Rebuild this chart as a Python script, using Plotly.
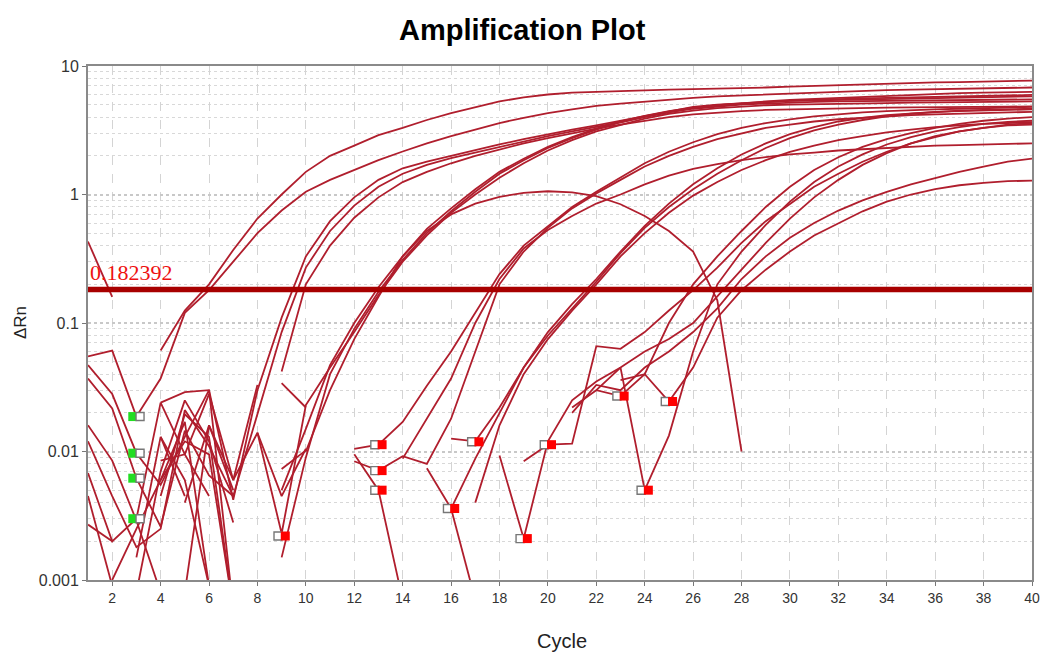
import plotly.graph_objects as go

N = None
cycles = list(range(1, 41))

# ---- amplification curves (delta Rn per cycle, None = not drawn) ----
A1 = [0.43, 0.16, N, 0.061, 0.125, 0.2, 0.37, 0.65, 1.0, 1.5,
      2.0, 2.4, 2.9, 3.3, 3.8, 4.3, 4.8, 5.3, 5.7, 6.0,
      6.2, 6.3, 6.4, 6.5, 6.55, 6.6, 6.65, 6.7, 6.8, 6.9,
      7.0, 7.1, 7.2, 7.3, 7.4, 7.45, 7.5, 7.6, 7.65, 7.7]
A2 = [0.055, 0.061, 0.0187, 0.037, 0.12, 0.18, 0.3, 0.5, 0.75, 1.05,
      1.3, 1.55, 1.85, 2.16, 2.5, 2.85, 3.2, 3.6, 3.95, 4.3,
      4.6, 4.9, 5.1, 5.3, 5.5, 5.65, 5.8, 5.9, 6.0, 6.1,
      6.2, 6.3, 6.4, 6.5, 6.55, 6.6, 6.65, 6.7, 6.75, 6.8]
B1 = [0.047, 0.028, 0.0097, 0.0055, 0.013, 0.03, 0.0042, 0.03, 0.11, 0.33,
      0.62, 0.95, 1.3, 1.6, 1.8, 2.0, 2.2, 2.45, 2.7, 2.95,
      3.2, 3.45, 3.75, 4.1, 4.45, 4.8, 5.0, 5.15, 5.25, 5.35,
      5.4, 5.45, 5.5, 5.55, 5.6, 5.65, 5.7, 5.72, 5.76, 5.8]
B2 = [0.037, 0.0216, 0.0062, 0.0026, 0.0145, 0.0065, 0.0045, 0.02, 0.085, 0.27,
      0.52, 0.82, 1.15, 1.45, 1.7, 1.92, 2.12, 2.35, 2.6, 2.85,
      3.1, 3.35, 3.65, 4.0, 4.35, 4.65, 4.85, 5.0, 5.1, 5.2,
      5.25, 5.3, 5.32, 5.35, 5.37, 5.4, 5.42, 5.44, 5.46, 5.5]
B3 = [N, N, N, 0.024, 0.029, 0.03, 0.0006, N, 0.042, 0.2,
      0.4, 0.66, 0.95, 1.25, 1.5, 1.75, 2.0, 2.25, 2.5, 2.75,
      3.0, 3.25, 3.5, 3.75, 4.0, 4.2, 4.35, 4.45, 4.55, 4.6,
      4.65, 4.7, 4.72, 4.75, 4.77, 4.8, 4.8, 4.82, 4.83, 4.85]
C1 = [0.0068, 0.002, 0.003, 0.024, 0.0095, 0.0045, N, N, 0.005, 0.015,
      0.047, 0.1, 0.19, 0.33, 0.54, 0.78, 1.1, 1.5, 1.9, 2.35,
      2.8, 3.25, 3.7, 4.1, 4.45, 4.75, 4.95, 5.1, 5.25, 5.35,
      5.45, 5.55, 5.6, 5.65, 5.7, 5.75, 5.8, 5.85, 5.9, 5.95]
C2 = [0.0027, 0.002, N, 0.006, 0.017, 0.0009, N, N, 0.0015, 0.009,
      0.04, 0.09, 0.175, 0.31, 0.5, 0.74, 1.05, 1.45, 1.85, 2.3,
      2.75, 3.2, 3.65, 4.05, 4.4, 4.7, 4.95, 5.15, 5.3, 5.45,
      5.55, 5.65, 5.75, 5.85, 5.95, 6.05, 6.15, 6.2, 6.25, 6.3]
C3 = [N, N, N, 0.0085, 0.0095, 0.028, 0.006, 0.014, 0.0023, 0.023,
      0.045, 0.085, 0.165, 0.3, 0.48, 0.72, 1.0, 1.35, 1.75, 2.2,
      2.65, 3.1, 3.5, 3.9, 4.25, 4.5, 4.7, 4.85, 4.95, 5.0,
      5.05, 5.1, 5.12, 5.15, 5.18, 5.2, 5.22, 5.25, 5.28, 5.3]
H1 = [N, N, 0.0015, 0.013, 0.0045, N, N, N, N, 0.01,
      0.03, 0.075, 0.16, 0.33, 0.52, 0.7, 0.85, 0.96, 1.03, 1.06,
      1.04, 0.97, 0.84, 0.68, 0.52, 0.36, 0.15, 0.01, N, N,
      N, N, N, N, N, N, N, N, N, N]
D1 = [0.016, 0.0085, 0.0029, 0.0008, N, N, N, N, N, N,
      N, 0.0105, 0.0113, 0.017, 0.0325, 0.06, 0.12, 0.24, 0.4, 0.57,
      0.8, 1.05, 1.35, 1.75, 2.15, 2.55, 2.95, 3.3, 3.6, 3.85,
      4.05, 4.2, 4.35, 4.45, 4.55, 4.6, 4.65, 4.7, 4.75, 4.8]
D2 = [N, 0.001, 0.0025, 0.006, 0.012, 0.0095, 0.0006, N, N, N,
      N, 0.0084, 0.0071, 0.0092, 0.008, 0.018, 0.06, 0.2, 0.36, 0.55,
      0.78, 1.02, 1.3, 1.65, 2.0, 2.35, 2.7, 3.0, 3.3, 3.5,
      3.7, 3.85, 3.95, 4.05, 4.15, 4.2, 4.25, 4.3, 4.35, 4.4]
D3 = [N, N, N, N, 0.004, 0.016, 0.006, 0.033, N, N,
      N, N, N, 0.0088, 0.018, 0.037, 0.1, 0.22, 0.38, 0.53,
      0.68, 0.85, 1.0, 1.2, 1.4, 1.58, 1.72, 1.85, 1.95, 2.05,
      2.12, 2.2, 2.25, 2.3, 2.35, 2.4, 2.42, 2.45, 2.48, 2.5]
E1 = [N, N, N, N, N, N, N, 0.014, 0.0045, 0.0105,
      N, N, N, N, N, 0.0126, 0.012, 0.022, 0.045, 0.08,
      0.13, 0.21, 0.35, 0.55, 0.8, 1.1, 1.45, 1.85, 2.3, 2.75,
      3.15, 3.5, 3.8, 4.05, 4.25, 4.4, 4.5, 4.55, 4.6, 4.65]
E2 = [N, N, N, 0.013, 0.006, 0.0009, N, N, N, N,
      N, N, N, N, 0.0074, 0.0036, 0.0088, 0.02, 0.045, 0.085,
      0.14, 0.22, 0.36, 0.57, 0.85, 1.2, 1.6, 2.05, 2.5, 2.95,
      3.35, 3.7, 3.95, 4.15, 4.3, 4.4, 4.45, 4.5, 4.55, 4.6]
E3 = [N, N, N, N, N, N, N, N, 0.034, 0.022,
      N, 0.0095, 0.005, 0.0007, N, N, 0.004, 0.016, 0.04, 0.075,
      0.125, 0.2, 0.33, 0.5, 0.72, 0.98, 1.25, 1.55, 1.85, 2.15,
      2.4, 2.65, 2.85, 3.05, 3.2, 3.35, 3.45, 3.55, 3.6, 3.65]
F1 = [N, N, N, N, 0.0008, 0.016, 0.005, N, N, N,
      N, N, N, N, N, N, N, N, 0.0084, 0.0113,
      0.0115, 0.066, 0.063, 0.085, 0.125, 0.18, 0.27, 0.42, 0.62, 0.85,
      1.15, 1.45, 1.8, 2.15, 2.5, 2.8, 3.1, 3.3, 3.5, 3.6]
F2 = [N, N, N, N, N, N, N, N, 0.0073, 0.0102,
      N, N, N, N, N, N, N, N, N, N,
      0.022, 0.03, 0.027, 0.04, 0.1, 0.2, 0.33, 0.52, 0.8, 1.15,
      1.55, 1.95, 2.35, 2.7, 3.0, 3.3, 3.55, 3.75, 3.9, 4.0]
F3 = [0.012, 0.0045, 0.0018, 0.0025, 0.021, 0.011, 0.0045, N, N, N,
      N, N, N, N, N, N, N, N, N, N,
      N, 0.03, 0.045, 0.005, 0.0133, 0.06, 0.2, 0.36, 0.58, 0.88,
      1.25, 1.65, 2.05, 2.45, 2.8, 3.1, 3.35, 3.55, 3.68, 3.75]
F4 = [N, N, N, 0.0045, 0.0195, 0.013, 0.0006, N, N, N,
      N, N, N, N, N, 0.0036, 0.0007, N, N, N,
      0.02, 0.033, 0.03, 0.045, 0.06, 0.085, 0.13, 0.22, 0.33, 0.46,
      0.6, 0.75, 0.9, 1.05, 1.2, 1.35, 1.5, 1.65, 1.8, 1.9]
F5 = [N, N, 0.0008, 0.007, 0.025, 0.012, 0.0028, N, N, N,
      N, N, N, N, N, N, N, N, N, N,
      N, N, 0.036, 0.04, 0.0245, 0.045, 0.11, 0.18, 0.26, 0.36,
      0.48, 0.6, 0.74, 0.88, 1.0, 1.1, 1.18, 1.23, 1.27, 1.28]
F6 = [0.0045, 0.0009, N, N, N, N, N, N, N, N,
      N, N, N, N, N, N, N, 0.0093, 0.0021, 0.012,
      0.025, 0.035, 0.045, 0.06, 0.075, 0.1, 0.16, 0.26, 0.42, 0.65,
      0.95, 1.3, 1.7, 2.1, 2.5, 2.85, 3.1, 3.3, 3.45, 3.5]

series = [A1, A2, B1, B2, B3, C1, C2, C3, H1, D1, D2, D3,
          E1, E2, E3, F1, F2, F3, F4, F5, F6]

threshold = 0.182392
threshold_label = "0.182392"

# baseline start / end markers
green_cycles = [3, 3, 3, 3]
green_values = [0.0187, 0.0097, 0.0062, 0.003]
red_cycles = [9, 13, 13, 13, 16, 17, 19, 20, 23, 24, 25]
red_values = [0.0022, 0.0113, 0.0071, 0.005, 0.0036, 0.0119,
              0.0021, 0.0113, 0.027, 0.005, 0.0245]

x_ticks = list(range(2, 41, 2))
y_ticks = [0.001, 0.01, 0.1, 1, 10]
y_tick_text = ["0.001", "0.01", "0.1", "1", "10"]
y_minor = [m * d for d in (0.001, 0.01, 0.1, 1) for m in range(2, 10)]

curve_color = "#B01E2D"
sans = "Liberation Sans, Arial, sans-serif"

fig = go.Figure()
for s in series:
    fig.add_trace(go.Scatter(x=cycles, y=s, mode="lines", connectgaps=False,
                             line=dict(color=curve_color, width=1.8),
                             hoverinfo="skip", showlegend=False))

fig.add_trace(go.Scatter(x=[1, 40], y=[threshold, threshold], mode="lines",
                         line=dict(color="#A80000", width=5.5),
                         showlegend=False, hoverinfo="skip"))

off = 0.15
fig.add_trace(go.Scatter(x=[c - off for c in green_cycles], y=green_values, mode="markers",
                         marker=dict(symbol="square", size=9, color="#22DD22",
                                     line=dict(color="#22DD22", width=0)),
                         showlegend=False))
fig.add_trace(go.Scatter(x=[c + off for c in green_cycles], y=green_values, mode="markers",
                         marker=dict(symbol="square", size=8, color="white",
                                     line=dict(color="#777777", width=1.4)),
                         showlegend=False))
fig.add_trace(go.Scatter(x=[c - off for c in red_cycles], y=red_values, mode="markers",
                         marker=dict(symbol="square", size=8, color="white",
                                     line=dict(color="#777777", width=1.4)),
                         showlegend=False))
fig.add_trace(go.Scatter(x=[c + off for c in red_cycles], y=red_values, mode="markers",
                         marker=dict(symbol="square", size=9, color="#FF0000",
                                     line=dict(color="#FF0000", width=0)),
                         showlegend=False))

fig.add_annotation(x=1, y=-0.739, xref="x", yref="y", text=threshold_label,
                   showarrow=False, xanchor="left", yanchor="bottom", xshift=0, yshift=2,
                   font=dict(family="Liberation Serif, Times New Roman, serif", size=22, color="#EE1111"))

fig.add_annotation(x=-0.072, y=0.5, xref="paper", yref="paper", text="ΔRn",
                   textangle=-90, showarrow=False, xanchor="center", yanchor="middle",
                   font=dict(family=sans, size=17, color="#222222"))
fig.add_annotation(x=0.502, y=-0.118, xref="paper", yref="paper", text="Cycle",
                   showarrow=False, xanchor="center", yanchor="middle",
                   font=dict(family=sans, size=20, color="#222222"))

fig.update_layout(
    width=1043, height=652,
    paper_bgcolor="white", plot_bgcolor="white",
    margin=dict(l=80, r=11, t=58, b=80),
    title=dict(text="<b>Amplification Plot</b>", x=0.493, xanchor="center",
               y=0.966, yanchor="middle", yref="container",
               font=dict(family=sans, size=29, color="black")),
    showlegend=False,
)
fig.update_xaxes(range=[1, 40], tickvals=x_ticks, ticks="outside", ticklen=4,
                 tickcolor="#777777", showline=True, linecolor="#8a8a8a", linewidth=2,
                 mirror=True, showgrid=True, gridcolor="#d4d4d4", griddash="dash",
                 gridwidth=1, zeroline=False,
                 tickfont=dict(family=sans, size=14, color="#333333"))
fig.update_yaxes(type="log", range=[-3, 1], tickvals=y_ticks, ticktext=y_tick_text,
                 ticks="outside", ticklen=4, tickcolor="#777777",
                 showline=True, linecolor="#8a8a8a", linewidth=2, mirror=True,
                 showgrid=True, gridcolor="#c8c8c8", griddash="dot", gridwidth=1.5,
                 zeroline=False,
                 minor=dict(tickvals=y_minor, showgrid=True, gridcolor="#d8d8d8",
                            griddash="dot", gridwidth=1.2, ticks=""),
                 tickfont=dict(family=sans, size=16, color="#333333"))

fig.write_html("out.html")
